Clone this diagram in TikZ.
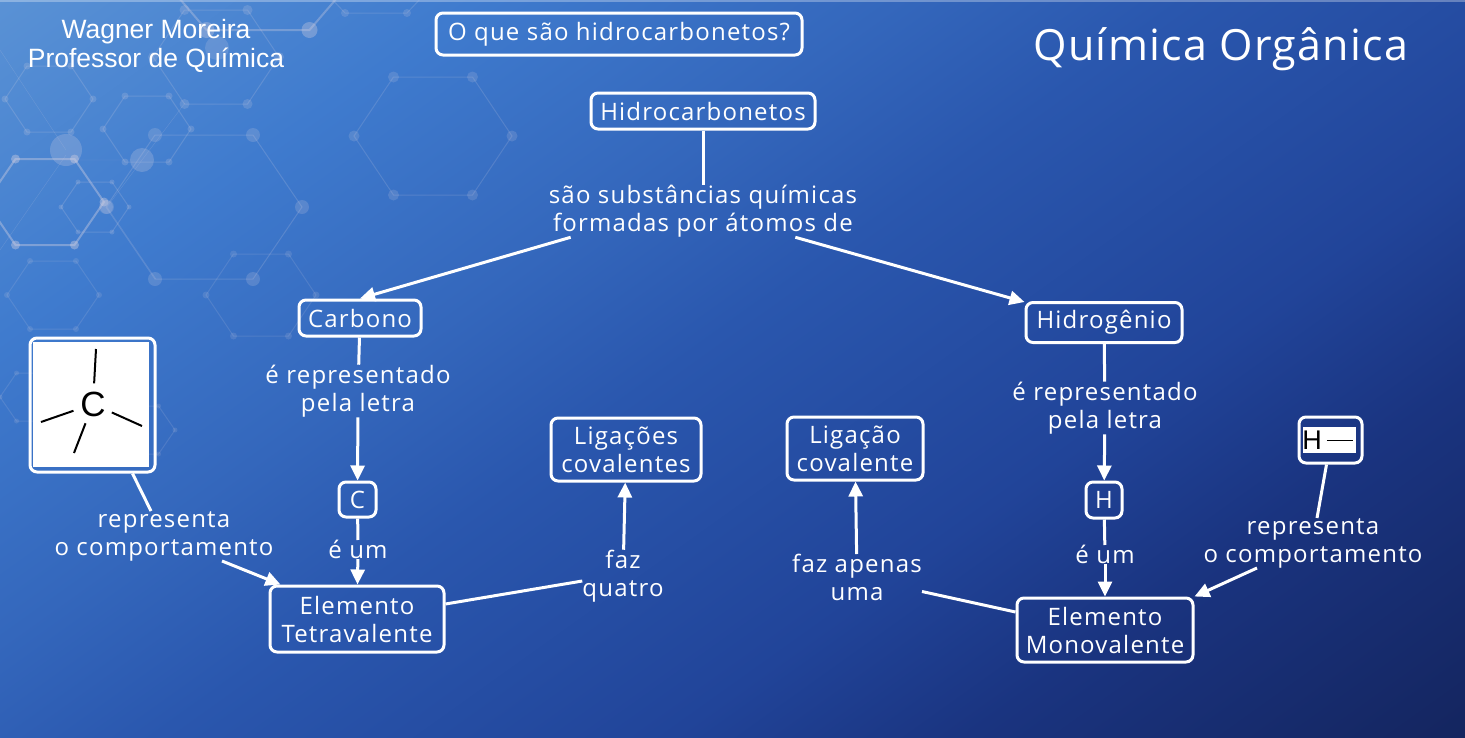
\documentclass[tikz,border=0pt]{standalone}
\usepackage{fontspec}
\usepackage{xcolor}
\usetikzlibrary{arrows.meta}
\setmainfont[LetterSpace=5]{Open Sans}
\newfontfamily\namefont{Liberation Sans}
\newfontfamily\headfont[LetterSpace=3]{Open Sans}
\definecolor{bga}{RGB}{90,146,213}
\definecolor{bgb}{RGB}{63,123,206}
\definecolor{bgc}{RGB}{52,103,188}
\definecolor{bgd}{RGB}{42,87,174}
\definecolor{bge}{RGB}{33,68,153}
\definecolor{bgf}{RGB}{26,52,128}
\definecolor{bgg}{RGB}{20,37,95}
\pgfdeclarehorizontalshading{bgramp}{100bp}{
  color(0bp)=(bga);
  color(33.5bp)=(bga);
  color(39.8bp)=(bgb);
  color(45.4bp)=(bgc);
  color(49.2bp)=(bgd);
  color(56bp)=(bge);
  color(59.9bp)=(bgf);
  color(66.5bp)=(bgg);
  color(100bp)=(bgg)}
\definecolor{hexcol}{RGB}{205,205,225}
\tikzset{
  conceptbox/.style = {draw = white, line width = 3pt, rounded corners = 7pt, text = white, inner sep = 0pt, align = center, font = \fontsize{24}{28}\selectfont},
  linklabel/.style = {text = white, inner sep = 0pt, align = center, font = \fontsize{24}{28}\selectfont},
  linkline/.style = {draw = white, line width = 3pt},
  linkarrow/.style = {linkline, -{Triangle[length = 15pt, width = 14pt]}},
  bond/.style = {draw = black, line width = 2pt}
}
% flat hexagon with dots at its corners
\newcommand{\hexring}[7]{
  \draw[hexcol, opacity = #7, line width = #6pt] (#1 - #3, #2) -- (#1 - #3 / 2, #2 - #4) -- (#1 + #3 / 2, #2 - #4) -- (#1 + #3, #2) -- (#1 + #3 / 2, #2 + #4) -- (#1 - #3 / 2, #2 + #4) -- cycle;
  \foreach \px/\py in {-1/0, -0.5/-1, 0.5/-1, 1/0, 0.5/1, -0.5/1}
    \fill[hexcol, opacity = #7] (#1 + \px * #3, #2 + \py * #4) circle (#5pt);
}
\begin{document}
\begin{tikzpicture}[x = 1pt, y = -1pt]
  \useasboundingbox (0, 0) rectangle (1465, 737);
  \begin{scope}
    \clip (0, 0) rectangle (1465, 737);
    \shade[shading = bgramp, shading angle = -54.46] (-368, -732) rectangle (1832, 1468);
    \fill[white, opacity = .3] (0, 0) rectangle (1465, 1.5);
    \hexring{433}{136}{79}{59}{5.5}{1}{.18}
    \hexring{204}{207}{98}{72}{7}{1}{.2}
    \hexring{45}{202}{59}{43}{4.5}{2}{.42}
    \hexring{95}{207}{34}{25}{2.5}{1}{.2}
    \hexring{147}{129}{44}{33}{3.5}{1}{.2}
    \hexring{49}{99}{44}{33}{3.5}{1}{.2}
    \hexring{216}{57}{63}{47}{5}{1}{.2}
    \hexring{261}{295}{55}{41}{3.5}{1}{.15}
    \hexring{53}{295}{46}{34}{3}{1}{.15}
    \hexring{33}{397}{33}{24}{2.5}{1}{.15}
    \hexring{142}{430}{33}{24}{2.5}{1}{.15}
    \hexring{258}{-30}{103}{60}{8}{2}{.35}
    \hexring{376}{-20}{62}{33}{4}{1}{.18}
    \fill[hexcol, opacity = .25] (66, 150) circle (16pt);
    \fill[hexcol, opacity = .25] (142, 160) circle (12pt);
    \fill[hexcol, opacity = .2] (217, 48) circle (12pt);
    \fill[hexcol, opacity = .2] (107, 207) circle (7pt);
    \draw[hexcol, opacity = .2] (185, 103) -- (142, 160) -- (107, 207) -- (156, 279);
    \draw[hexcol, opacity = .2] (66, 160) -- (142, 160) (66, 155) -- (0, 250);
    \draw[hexcol, opacity = .2] (0, 50) -- (66, 150);
  \end{scope}

  \node [text = white, align = center, font = \namefont\fontsize{26.5}{29}\selectfont] (author) at (156, 46) {Wagner Moreira\\Professor de Química};
  \node [text = white, font = \headfont\fontsize{43}{48}\selectfont] (subject) at (1221, 49) {Química Orgânica};

  \node [conceptbox, minimum width = 366pt, minimum height = 42pt] (question) at (619, 34) {O que são hidrocarbonetos?};
  \node [conceptbox, minimum width = 224pt, minimum height = 36pt] (hydrocarbons) at (703, 111) {Hidrocarbonetos};
  \node [conceptbox, minimum width = 122pt, minimum height = 36pt] (carbon) at (360, 318) {Carbono};
  \node [conceptbox, minimum width = 156pt, minimum height = 40pt] (hydrogen) at (1104, 322.5) {Hidrogênio};
  \node [conceptbox, minimum width = 150pt, minimum height = 63pt] (bondsc) at (626, 449.5) {Ligações\\covalentes};
  \node [conceptbox, minimum width = 136pt, minimum height = 63pt] (bondh) at (855, 448.5) {Ligação\\covalente};
  \node [conceptbox, minimum width = 37pt, minimum height = 35pt] (letterc) at (357.5, 499.5) {C};
  \node [conceptbox, minimum width = 36pt, minimum height = 36pt] (letterh) at (1104, 500) {H};
  \node [conceptbox, minimum width = 174pt, minimum height = 66pt] (tetra) at (357, 619) {Elemento\\Tetravalente};
  \node [conceptbox, minimum width = 176pt, minimum height = 64pt] (mono) at (1105, 630) {Elemento\\Monovalente};

  \node [draw = white, line width = 3pt, rounded corners = 7pt, inner sep = 0pt, minimum width = 125pt, minimum height = 134pt] (framec) at (92.5, 405) {};
  \node [fill = white, inner sep = 0pt, minimum width = 116pt, minimum height = 125pt] (imagec) at (91, 404.5) {};
  \node [circle, inner sep = 2pt, font = \namefont\fontsize{35}{35}\selectfont] (atomc) at (93, 404) {C};
  \coordinate (bondup) at (96, 349);
  \coordinate (bondleft) at (41, 422);
  \coordinate (bondright) at (142, 426);
  \coordinate (bonddown) at (74, 453);
  \draw[bond] (bondup) -- (atomc);
  \draw[bond] (bondleft) -- (atomc);
  \draw[bond] (bondright) -- (atomc);
  \draw[bond] (bonddown) -- (atomc);

  \node [draw = white, line width = 3pt, rounded corners = 7pt, inner sep = 0pt, minimum width = 63pt, minimum height = 46pt] (frameh) at (1330.5, 440) {};
  \node [fill = white, inner sep = 0pt, minimum width = 53pt, minimum height = 26pt] (imageh) at (1329.5, 440) {};
  \node [inner sep = 0pt, font = \namefont\fontsize{27}{27}\selectfont] (atomh) at (1312, 440) {H};
  \coordinate (bondh end) at (1353, 440);
  \draw[black, line width = 1pt] ([xshift = 5pt]atomh.east) -- (bondh end);

  \node [linklabel] (formedby) at (703, 211) {são substâncias químicas\\formadas por átomos de};
  \node [linklabel] (shownc) at (358, 391) {é representado\\pela letra};
  \node [linklabel] (isc) at (358, 549.5) {é um};
  \node [linklabel] (actsc) at (164, 536) {representa\\o comportamento};
  \node [linklabel] (fourc) at (623, 576) {faz\\quatro};
  \node [linklabel] (oneh) at (857, 577.5) {faz apenas\\uma};
  \node [linklabel] (shownh) at (1105, 408) {é representado\\pela letra};
  \node [linklabel] (ish) at (1105, 554.5) {é um};
  \node [linklabel] (actsh) at (1313, 543) {representa\\o comportamento};

  \draw[linkline] (hydrocarbons) -- (formedby);
  \draw[linkarrow] ([xshift = 22pt]formedby.south west) -- (carbon.north);
  \draw[linkarrow] ([xshift = -62pt]formedby.south east) -- ([yshift = -1pt]hydrogen.north west);
  \draw[linkline] (carbon) -- (shownc);
  \draw[linkarrow] (shownc) -- (letterc);
  \draw[linkline] (letterc) -- (isc);
  \draw[linkarrow] (isc) -- (tetra);
  \draw[linkline] ([xshift = 40pt]framec.south) -- ([xshift = -13pt]actsc.north);
  \draw[linkarrow] ([xshift = 58pt]actsc.south) -- ([xshift = 12pt]tetra.north west);
  \draw[linkline] ([yshift = 15pt]tetra.east) -- ([yshift = -5pt]fourc.west);
  \draw[linkarrow] (fourc) -- (bondsc);
  \draw[linkline] ([yshift = 18pt]mono.west) -- ([yshift = -14pt]oneh.east);
  \draw[linkarrow] (oneh) -- (bondh);
  \draw[linkline] (hydrogen) -- (shownh);
  \draw[linkarrow] (shownh) -- (letterh);
  \draw[linkline] (letterh) -- (ish);
  \draw[linkarrow] (ish) -- (mono);
  \draw[linkline] ([xshift = -4pt]frameh.south) -- ([xshift = 4pt]actsh.north);
  \draw[linkarrow] ([xshift = -56pt]actsh.south) -- (mono.north east);
\end{tikzpicture}
\end{document}
